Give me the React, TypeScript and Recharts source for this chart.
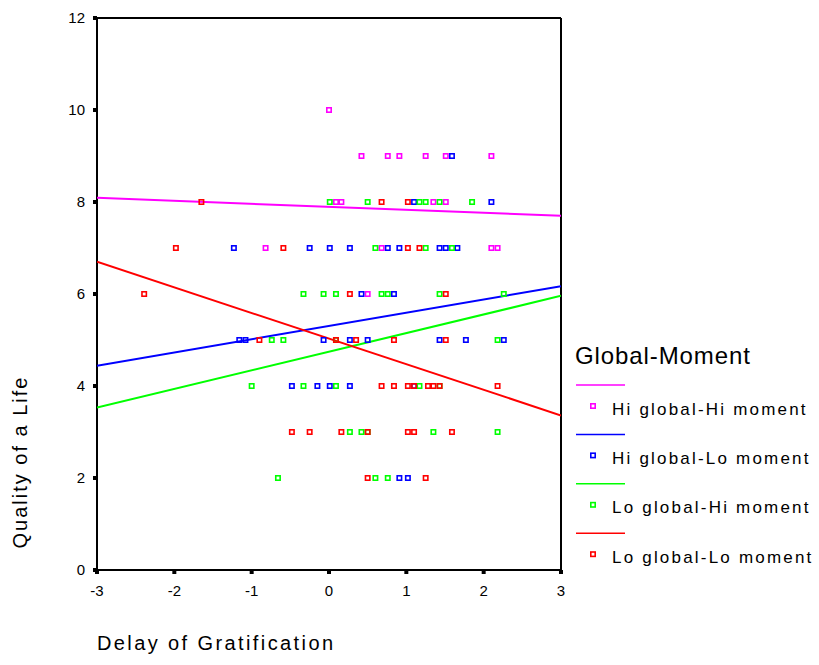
import {
  Label,
  Legend,
  ReferenceLine,
  Scatter,
  ScatterChart,
  XAxis,
  YAxis,
} from "recharts";

const FONT = "Arial, 'Liberation Sans', sans-serif";

const groupNames = [
  "Hi global-Hi moment",
  "Hi global-Lo moment",
  "Lo global-Hi moment",
  "Lo global-Lo moment",
];
const groupColors = ["#FF00FF", "#0000FF", "#00FF00", "#FF0000"];

const xTicks = [-3, -2, -1, 0, 1, 2, 3];
const yTicks = [0, 2, 4, 6, 8, 10, 12];

// raw observations, per group: [delay, quality]
const hiHi: [number, number][] = [
  [0.0, 10],
  [0.42, 9], [0.76, 9], [0.91, 9], [1.25, 9], [1.51, 9], [2.1, 9],
  [0.09, 8], [0.16, 8], [1.35, 8], [1.51, 8],
  [-0.82, 7], [0.68, 7], [2.1, 7], [2.18, 7],
  [0.5, 6],
];
const hiLo: [number, number][] = [
  [1.59, 9],
  [1.1, 8], [2.1, 8],
  [-1.23, 7], [-0.25, 7], [0.01, 7], [0.27, 7], [0.76, 7], [0.91, 7], [1.43, 7], [1.51, 7], [1.66, 7],
  [0.42, 6], [0.84, 6],
  [-1.16, 5], [-1.08, 5], [-0.07, 5], [0.27, 5], [0.5, 5], [1.43, 5], [1.77, 5], [2.26, 5],
  [-0.48, 4], [-0.15, 4], [0.01, 4], [0.27, 4], [1.1, 4],
  [0.91, 2], [1.02, 2],
];
const loHi: [number, number][] = [
  [0.01, 8], [0.5, 8], [1.17, 8], [1.25, 8], [1.43, 8], [1.85, 8],
  [0.6, 7], [1.25, 7], [1.59, 7],
  [-0.33, 6], [-0.07, 6], [0.09, 6], [0.68, 6], [0.76, 6], [1.43, 6], [2.26, 6],
  [-0.74, 5], [-0.59, 5], [0.09, 5], [2.18, 5],
  [-1.0, 4], [-0.33, 4], [0.09, 4], [1.17, 4], [1.43, 4],
  [0.27, 3], [0.42, 3], [0.5, 3], [1.35, 3], [2.18, 3],
  [-0.66, 2], [0.6, 2], [0.76, 2],
];
const loLo: [number, number][] = [
  [-1.65, 8], [0.68, 8], [1.02, 8],
  [-1.98, 7], [-0.59, 7], [1.02, 7], [1.17, 7],
  [-2.39, 6], [0.27, 6], [1.51, 6],
  [-0.9, 5], [0.09, 5], [0.35, 5], [0.84, 5], [1.51, 5],
  [0.68, 4], [0.84, 4], [1.02, 4], [1.1, 4], [1.28, 4], [1.35, 4], [1.43, 4], [2.18, 4],
  [-0.48, 3], [-0.25, 3], [0.16, 3], [0.5, 3], [1.02, 3], [1.1, 3], [1.59, 3],
  [0.5, 2], [1.25, 2],
];

// fitted line ends at x = -3 and x = 3
const fitHiHi: [number, number][] = [[-3, 8.09], [3, 7.7]];
const fitHiLo: [number, number][] = [[-3, 4.44], [3, 6.17]];
const fitLoHi: [number, number][] = [[-3, 3.53], [3, 5.96]];
const fitLoLo: [number, number][] = [[-3, 6.7], [3, 3.36]];

const toPts = (arr: [number, number][]) => arr.map(([x, y]) => ({ x, y }));

const groups = [hiHi, hiLo, loHi, loLo];
const fits = [fitHiHi, fitHiLo, fitLoHi, fitLoLo];

const squareShape = (color: string) => (props: any) => {
  const { cx, cy } = props;
  if (cx == null || cy == null) return <g />;
  return (
    <rect x={cx - 2.2} y={cy - 2.2} width={4.4} height={4.4} fill="none" stroke={color} strokeWidth={1.6} />
  );
};

function GroupLegend() {
  return (
    <svg width={254} height={240} style={{ display: "block" }}>
      <text x={10} y={20} fontSize={24} letterSpacing={0.9} fontFamily={FONT} dominantBaseline="central" fill="#000">
        Global-Moment
      </text>
      {groupNames.map((name, i) => {
        const base = i * 49.4;
        return (
          <g key={name}>
            <line x1={11} x2={60} y1={50 + base} y2={50 + base} stroke={groupColors[i]} strokeWidth={1.5} />
            <rect x={25.8} y={68.8 + base} width={4.4} height={4.4} fill="none" stroke={groupColors[i]} strokeWidth={1.6} />
            <text x={47} y={74 + base} fontSize={17} letterSpacing={2.2} fontFamily={FONT} dominantBaseline="central" fill="#000">
              {name}
            </text>
          </g>
        );
      })}
    </svg>
  );
}

export default function App() {
  return (
    <div style={{ position: "absolute", left: 0, top: 0, width: 819, height: 665, background: "#fff" }}>
      <ScatterChart width={819} height={665} margin={{ top: 18, right: 258, bottom: 65, left: 0 }}>
        <XAxis
          type="number"
          dataKey="x"
          domain={[-3, 3]}
          ticks={xTicks}
          interval={0}
          height={30}
          allowDataOverflow
          axisLine={{ stroke: "#000", strokeWidth: 2 }}
          tickLine={{ stroke: "#000", strokeWidth: 4 }}
          tickSize={4}
          tickMargin={11}
          tick={{ fill: "#000", fontSize: 15, fontFamily: FONT }}
        >
          <Label
            content={() => (
              <text x={97} y={643} fontSize={20} letterSpacing={2.4} fontFamily={FONT} dominantBaseline="central" fill="#000">
                Delay of Gratification
              </text>
            )}
          />
        </XAxis>
        <YAxis
          type="number"
          dataKey="y"
          domain={[0, 12]}
          ticks={yTicks}
          interval={0}
          width={97}
          allowDataOverflow
          axisLine={{ stroke: "#000", strokeWidth: 2 }}
          tickLine={{ stroke: "#000", strokeWidth: 4 }}
          tickSize={4}
          tickMargin={8}
          tick={{ fill: "#000", fontSize: 15, fontFamily: FONT }}
        >
          <Label
            content={() => (
              <text
                x={20}
                y={462}
                fontSize={20}
                letterSpacing={2}
                fontFamily={FONT}
                textAnchor="middle"
                dominantBaseline="central"
                transform="rotate(-90 20 462)"
                fill="#000"
              >
                Quality of a Life
              </text>
            )}
          />
        </YAxis>
        <ReferenceLine y={12} stroke="#000" strokeWidth={2} ifOverflow="visible" />
        <ReferenceLine x={3} stroke="#000" strokeWidth={2} ifOverflow="visible" />
        {fits.map((f, i) => (
          <Scatter
            key={`fit-${i}`}
            data={toPts(f)}
            line={{ stroke: groupColors[i], strokeWidth: 2 }}
            shape={() => <g />}
            isAnimationActive={false}
            legendType="none"
          />
        ))}
        {groups.map((g, i) => (
          <Scatter
            key={groupNames[i]}
            name={groupNames[i]}
            data={toPts(g)}
            fill={groupColors[i]}
            shape={squareShape(groupColors[i])}
            isAnimationActive={false}
          />
        ))}
        <Legend
          layout="horizontal"
          verticalAlign="middle"
          align="center"
          content={() => <GroupLegend />}
          wrapperStyle={{ position: "absolute", left: 565, top: 335, width: 254, height: 240 }}
        />
      </ScatterChart>
    </div>
  );
}
